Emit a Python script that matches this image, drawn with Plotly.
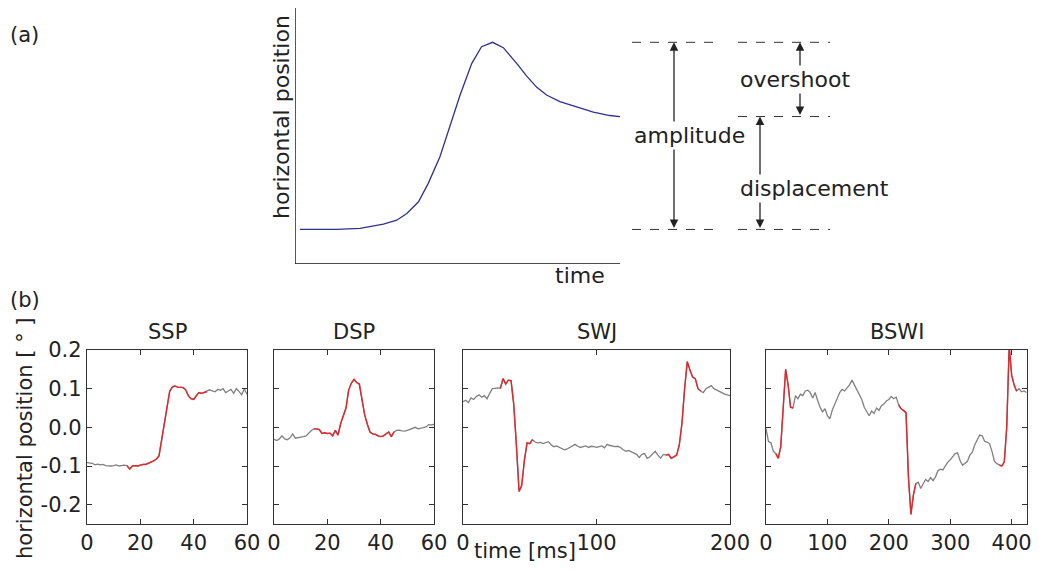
import plotly.graph_objects as go

# La página tiene 8 px de margen: la figura ocupa 1023x557 dentro de 1039x573.
OX, OY = 8, 8
W, H = 1039 - 2 * OX, 573 - 2 * OY

# ---- (a) esquema de una sacada ----
curva_t = [1.5, 12.8, 20.0, 27.2, 31.3, 34.4, 38.0, 41.0, 44.6, 47.7, 50.8, 54.4,
           57.4, 60.8, 64.1, 68.2, 71.3, 74.4, 77.4, 81.5, 86.7, 91.8, 96.9, 100.0]
curva_y = [13.5, 13.5, 13.9, 15.6, 17.1, 19.7, 24.3, 31.5, 41.9, 53.6, 66.0, 78.4,
           84.9, 86.6, 84.5, 78.4, 73.4, 69.0, 66.0, 63.4, 61.2, 59.3, 58.0, 57.6]

# ---- (b) trazas reales ----
titulos = ["SSP", "DSP", "SWJ", "BSWI"]

ssp_t = list(range(0, 61))
ssp_y = [-0.091, -0.092, -0.093, -0.097, -0.095, -0.097, -0.096, -0.099, -0.100, -0.100,
         -0.099, -0.097, -0.100, -0.099, -0.098, -0.099, -0.108, -0.100, -0.099, -0.100,
         -0.097, -0.096, -0.096, -0.094, -0.090, -0.087, -0.082, -0.074, -0.030, 0.017,
         0.060, 0.093, 0.104, 0.107, 0.104, 0.104, 0.103, 0.097, 0.082, 0.074,
         0.072, 0.082, 0.090, 0.088, 0.091, 0.092, 0.097, 0.094, 0.092, 0.098,
         0.096, 0.100, 0.090, 0.094, 0.098, 0.088, 0.100, 0.093, 0.084, 0.099, 0.086]
ssp_rojo = [(15, 45)]

dsp_t = list(range(0, 61))
dsp_y = [-0.031, -0.034, -0.030, -0.022, -0.030, -0.032, -0.027, -0.017, -0.028, -0.027,
         -0.026, -0.024, -0.022, -0.014, -0.008, -0.004, -0.004, -0.006, -0.016, -0.014,
         -0.016, -0.015, -0.022, -0.008, -0.020, 0.010, 0.030, 0.050, 0.097, 0.114,
         0.124, 0.116, 0.112, 0.071, 0.032, 0.008, -0.012, -0.017, -0.018, -0.022,
         -0.024, -0.022, -0.017, -0.012, -0.024, -0.012, -0.008, -0.007, -0.009, -0.010,
         -0.008, -0.006, -0.004, 0.000, -0.004, -0.003, -0.001, 0.001, 0.007, 0.006, 0.008]
dsp_rojo = [(15, 45)]

swj_t = list(range(0, 201, 2))
swj_y = [0.066, 0.070, 0.064, 0.076, 0.072, 0.080, 0.084, 0.078, 0.082, 0.074,
         0.088, 0.100, 0.101, 0.102, 0.101, 0.126, 0.112, 0.122, 0.121, 0.060,
         -0.046, -0.166, -0.150, -0.085, -0.040, -0.042, -0.032, -0.038, -0.040, -0.039,
         -0.042, -0.039, -0.037, -0.045, -0.050, -0.048, -0.052, -0.055, -0.058, -0.056,
         -0.052, -0.050, -0.044, -0.049, -0.052, -0.050, -0.048, -0.052, -0.049, -0.050,
         -0.052, -0.050, -0.048, -0.053, -0.044, -0.047, -0.048, -0.050, -0.049, -0.052,
         -0.058, -0.062, -0.060, -0.064, -0.066, -0.070, -0.078, -0.070, -0.068, -0.080,
         -0.076, -0.070, -0.062, -0.072, -0.080, -0.070, -0.072, -0.070, -0.080, -0.076,
         -0.072, -0.046, 0.010, 0.100, 0.170, 0.148, 0.130, 0.126, 0.100, 0.094,
         0.090, 0.100, 0.104, 0.108, 0.100, 0.096, 0.092, 0.088, 0.086, 0.084, 0.082]
swj_rojo = [(28, 52), (152, 178)]

bswi_t = list(range(0, 425, 4))
bswi_y = [-0.003, -0.037, -0.040, -0.062, -0.068, -0.080, -0.050, 0.065, 0.150, 0.110,
          0.052, 0.050, 0.082, 0.074, 0.086, 0.082, 0.094, 0.096, 0.090, 0.076,
          0.090, 0.070, 0.052, 0.040, 0.048, 0.030, 0.022, 0.045, 0.060, 0.078,
          0.090, 0.098, 0.094, 0.102, 0.110, 0.122, 0.110, 0.098, 0.084, 0.072,
          0.052, 0.040, 0.030, 0.042, 0.036, 0.050, 0.044, 0.056, 0.060, 0.068,
          0.072, 0.080, 0.074, 0.078, 0.058, 0.048, 0.044, 0.038, -0.130, -0.225,
          -0.175, -0.145, -0.142, -0.158, -0.146, -0.135, -0.140, -0.130, -0.138, -0.128,
          -0.112, -0.108, -0.110, -0.098, -0.090, -0.084, -0.076, -0.068, -0.066, -0.086,
          -0.098, -0.092, -0.088, -0.072, -0.064, -0.045, -0.032, -0.020, -0.022, -0.036,
          -0.038, -0.042, -0.062, -0.088, -0.094, -0.098, -0.100, -0.090, 0.000, 0.210,
          0.135, 0.110, 0.094, 0.100, 0.092, 0.094, 0.090]
bswi_rojo = [(16, 44), (214, 246), (380, 408)]

rangos_x = [[0, 60], [0, 60], [0, 200], [0, 425]]
ticks_x = [[0, 20, 40, 60], [0, 20, 40, 60], [0, 100, 200], [0, 100, 200, 300, 400]]
ticks_y = [-0.2, -0.1, 0.0, 0.1, 0.2]
etiquetas_y = ["-0.2", "-0.1", "0.0", "0.1", "0.2"]

series = [(ssp_t, ssp_y, ssp_rojo), (dsp_t, dsp_y, dsp_rojo),
          (swj_t, swj_y, swj_rojo), (bswi_t, bswi_y, bswi_rojo)]

FUENTE = "DejaVu Sans"
TEXTO = "#222222"
GRIS = "#808080"
ROJO = "#e4262b"
EJE = "#333333"


def px_x(p):
    """Pixel horizontal de la página -> fracción del papel."""
    return min(max((p - OX) / W, 0), 1)


def px_y(p):
    """Pixel vertical de la página -> fracción del papel."""
    return min(max(1 - (p - OY) / H, 0), 1)


fig = go.Figure()

# Curva esquemática en el eje superior.
fig.add_trace(go.Scatter(x=curva_t, y=curva_y, mode="lines",
                         line=dict(color="#2e3192", width=1.3),
                         xaxis="x", yaxis="y", hoverinfo="skip"))

# Paneles inferiores: traza gris completa y tramos rojos encima.
for i, (t, y, rojos) in enumerate(series):
    n = i + 2
    fig.add_trace(go.Scatter(x=t, y=y, mode="lines",
                             line=dict(color=GRIS, width=1.3),
                             xaxis=f"x{n}", yaxis=f"y{n}"))
    for a, b in rojos:
        tr = [tt for tt in t if a <= tt <= b]
        yr = [yy for tt, yy in zip(t, y) if a <= tt <= b]
        fig.add_trace(go.Scatter(x=tr, y=yr, mode="lines",
                                 line=dict(color=ROJO, width=1.4),
                                 xaxis=f"x{n}", yaxis=f"y{n}"))

dominios = [(87, 247), (274, 434), (463, 730), (766, 1027)]
ejes = dict()
for i, (x0, x1) in enumerate(dominios):
    n = i + 2
    ejes[f"xaxis{n}"] = dict(
        domain=[px_x(x0), px_x(x1)], range=rangos_x[i], anchor=f"y{n}",
        tickvals=ticks_x[i], ticktext=[str(v) for v in ticks_x[i]],
        ticks="inside", ticklen=5, tickwidth=1.2, tickcolor=EJE,
        showline=True, linecolor=EJE, linewidth=1.4, mirror="ticks",
        showgrid=False, zeroline=False, automargin=False, ticklabeloverflow="allow",
        tickfont=dict(size=21, color=TEXTO))
    ejes[f"yaxis{n}"] = dict(
        domain=[px_y(524), px_y(350)], range=[-0.25, 0.2], anchor=f"x{n}",
        tickvals=ticks_y, ticktext=etiquetas_y, showticklabels=(i == 0),
        ticks="inside", ticklen=5, tickwidth=1.2, tickcolor=EJE,
        showline=True, linecolor=EJE, linewidth=1.4, mirror="ticks",
        showgrid=False, zeroline=False, automargin=False,
        tickfont=dict(size=21, color=TEXTO))

# Eje superior: 0-100 en x ocupa de 295 a 620 px de la página.
escala_x = (620 - 295) / 100
escala_y = (264 - 8) / 100
borde_der = OX + W
ejes["xaxis"] = dict(domain=[px_x(295), 1.0], range=[0, (borde_der - 295) / escala_x],
                     visible=False, anchor="y", automargin=False)
ejes["yaxis"] = dict(domain=[px_y(264), px_y(8)], range=[0, 100],
                     visible=False, anchor="x", automargin=False)

pico = max(curva_y)
base = curva_y[0]
final = curva_y[-1]


def gx(p):
    return (p - 295) / escala_x


def gy(p):
    return (264 - p) / escala_y


formas = [
    dict(type="line", xref="x", yref="y", x0=0, x1=100, y0=0, y1=0,
         line=dict(color="#111111", width=1.4)),
    dict(type="line", xref="x", yref="y", x0=0, x1=0, y0=0, y1=100,
         line=dict(color="#111111", width=1.4)),
]
for nivel in [pico, base]:
    formas.append(dict(type="line", xref="x", yref="y", x0=gx(632), x1=gx(713),
                       y0=nivel, y1=nivel, line=dict(color=EJE, width=1, dash="dash")))
for nivel in [pico, final, base]:
    formas.append(dict(type="line", xref="x", yref="y", x0=gx(738), x1=gx(830),
                       y0=nivel, y1=nivel, line=dict(color=EJE, width=1, dash="dash")))

flecha = dict(xref="x", yref="y", axref="x", ayref="y", text="", showarrow=True,
              arrowside="end+start", arrowhead=2, arrowsize=1.3, arrowwidth=1.3,
              arrowcolor="#222222", standoff=0, startstandoff=0)
texto = dict(font=dict(family=FUENTE, size=22, color=TEXTO), showarrow=False,
             xanchor="center", yanchor="middle")
texto_b = dict(texto, font=dict(family=FUENTE, size=21, color=TEXTO))

anotaciones = [
    dict(flecha, x=gx(674), y=pico, ax=gx(674), ay=base),
    dict(flecha, x=gx(800), y=pico, ax=gx(800), ay=final),
    dict(flecha, x=gx(760), y=final, ax=gx(760), ay=base),
    dict(texto, xref="x", yref="y", x=gx(632), y=(pico + base) / 2, xanchor="left",
         text="amplitude", bgcolor="white"),
    dict(texto, xref="x", yref="y", x=gx(738), y=(pico + final) / 2, xanchor="left",
         text="overshoot", bgcolor="white"),
    dict(texto, xref="x", yref="y", x=gx(738), y=gy(188), xanchor="left",
         text="displacement", bgcolor="white"),
    dict(texto, xref="paper", yref="paper", x=px_x(282), y=px_y(117),
         text="horizontal position", textangle=-90),
    dict(texto, xref="paper", yref="paper", x=px_x(607), y=px_y(275),
         xanchor="right", text="time"),
    dict(texto_b, xref="paper", yref="paper", x=px_x(8), y=px_y(35),
         xanchor="left", text="(a)"),
    dict(texto_b, xref="paper", yref="paper", x=px_x(8), y=px_y(300),
         xanchor="left", text="(b)"),
    dict(texto_b, xref="paper", yref="paper", x=px_x(25), y=px_y(438),
         text="horizontal position [ ° ]", textangle=-90),
    dict(texto_b, xref="paper", yref="paper", x=px_x(472), y=px_y(565),
         xanchor="left", yanchor="bottom", text="time [ms]"),
]
for (x0, x1), titulo in zip(dominios, titulos):
    anotaciones.append(dict(texto_b, xref="paper", yref="paper", x=px_x((x0 + x1) / 2),
                            y=px_y(332), text=titulo))

fig.update_layout(
    template="none",
    width=W, height=H,
    margin=dict(l=0, r=0, t=0, b=0, autoexpand=False),
    paper_bgcolor="white", plot_bgcolor="white",
    showlegend=False,
    font=dict(family=FUENTE, color=TEXTO, size=21),
    shapes=formas,
    annotations=anotaciones,
    **ejes
)

fig.write_html("out.html")
